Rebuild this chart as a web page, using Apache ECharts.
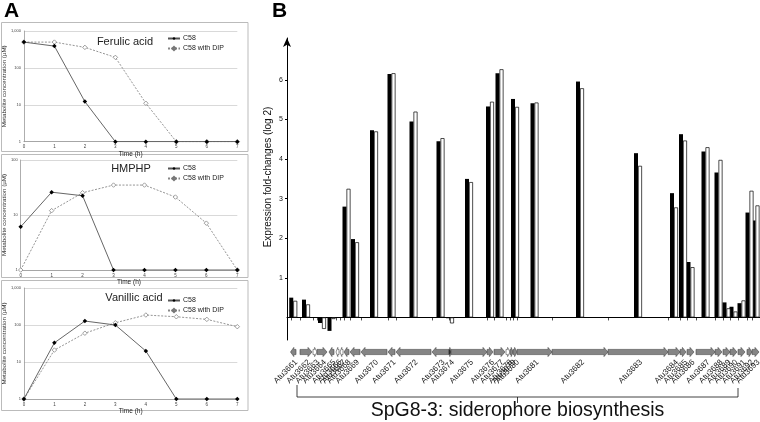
<!DOCTYPE html>
<html><head><meta charset="utf-8">
<script src="https://cdn.jsdelivr.net/npm/echarts@6/dist/echarts.min.js"></script>
<style>html,body{margin:0;padding:0;background:#fff}#c{width:760px;height:422px}</style>
</head><body><div id="c"></div>
<script>
// ---------- Panel A data (log scale, µM) ----------
const hours = [0,1,2,3,4,5,6,7];
const ferulicC58 = [500,390,12.2,1,1,1,1,1];
const ferulicDIP = [500,500,360,193,11,1,1,1];
const hmphpC58 = [6.1,26,22.4,1,1,1,1,1];
const hmphpDIP = [1,12,25.4,35,35,21.2,7.1,1];
const vanillicC58 = [1,33,128,100,19.8,1,1,1];
const vanillicDIP = [1,21,60,115,186,167,142,90];

// ---------- Panel B data ----------
const geneNames = ['Atu3661','Atu3662','Atu3663','Atu3664','Atu3665','Atu3666','Atu3667','Atu3668','Atu3669','Atu3670','Atu3671','Atu3672','Atu3673','Atu3674','Atu3675','Atu3676','Atu3677','Atu3678','Atu3679','Atu3680','Atu3681','Atu3682','Atu3683','Atu3684','Atu3685','Atu3686','Atu3687','Atu3688','Atu3689','Atu3690','Atu3691','Atu3692','Atu3693'];
const geneStart = [3.5,13,26,30,42,49,53,57,63,74,101,109,145,162,164,200,207,219,223,226,230,265,321,381,393,400,409,428,436,443,451,460,465];
const geneEnd   = [9,25,30,40,47,52,56,62,73,100,108,144,162,164,200,206,218,223,226,230,265,321,381,393,399,407,428,435,443,450,458,465,472];
const geneStrand = [-1,1,1,1,-1,-1,-1,-1,-1,-1,-1,-1,-1,1,1,1,1,1,1,1,1,1,1,1,1,1,1,1,1,1,1,1,1];
const geneWhite = [0,0,1,0,0,1,1,0,0,0,0,0,0,2,0,0,0,1,0,0,0,0,0,0,0,0,0,0,0,0,0,0,0];
const foldBlack = [0.5,0.45,null,-0.14,-0.34,null,null,2.8,1.98,4.73,6.15,4.95,4.45,-0.02,3.5,5.33,6.17,null,null,5.52,5.41,5.96,4.15,3.14,4.63,1.40,4.19,3.66,0.38,0.27,0.36,2.65,2.45];
const foldWhite = [0.42,0.33,null,-0.29,-0.04,null,null,3.25,1.9,4.7,6.17,5.2,4.53,-0.15,3.42,5.45,6.27,null,null,5.32,5.43,5.79,3.83,2.78,4.47,1.27,4.30,3.98,0.23,0.15,0.43,3.2,2.83];
const yTicksB = [1,2,3,4,5,6];
const clusterSpan = [10, 451];
const clusterLabel = 'SpG8-3: siderophore biosynthesis';

const FONT = 'Liberation Sans, Arial, sans-serif';
const chart = echarts.init(document.getElementById('c'), null, {renderer:'canvas'});

const boxesA = [
  {top:31, height:110.7, max:1000, title:'Ferulic acid', tx:125, ty:36, lg:35},
  {top:160, height:110, max:100, title:'HMPHP', tx:131, ty:163, lg:165},
  {top:288, height:111, max:1000, title:'Vanillic acid', tx:134, ty:292, lg:297}
];
const dataA = [[ferulicC58, ferulicDIP],[hmphpC58, hmphpDIP],[vanillicC58, vanillicDIP]];

const grids = [], xAxes = [], yAxes = [], series = [], legends = [];
boxesA.forEach((b,i)=>{
  grids.push({left:20.7, width:216.6, top:b.top, height:b.height});
  xAxes.push({gridIndex:i, type:'value', min:0, max:7, interval:1,
    axisLine:{lineStyle:{color:'#999', width:0.8}}, axisTick:{show:false},
    axisLabel:{fontSize:4.5, color:'#444', margin:3, fontFamily:FONT},
    splitLine:{show:false},
    name:'Time (h)', nameLocation:'middle', nameGap:8,
    nameTextStyle:{fontSize:6.5, color:'#222', fontFamily:FONT}});
  yAxes.push({gridIndex:i, type:'log', logBase:10, min:1, max:b.max,
    axisLine:{show:true, lineStyle:{color:'#999', width:0.8}}, axisTick:{show:false},
    axisLabel:{fontSize:4, color:'#444', margin:3, fontFamily:FONT},
    splitLine:{show:true, lineStyle:{color:'#cfcfcf', width:0.8}},
    name:'Metabolite concentration (µM)', nameLocation:'middle', nameGap:12,
    nameTextStyle:{fontSize:6.2, color:'#333', fontFamily:FONT}});
  series.push({name:'C58', type:'line', xAxisIndex:i, yAxisIndex:i,
    data: hours.map((h,k)=>[h, dataA[i][0][k]]),
    lineStyle:{color:'#555', width:0.9}, symbol:'diamond', symbolSize:4.5,
    itemStyle:{color:'#000'}, z:3, silent:true});
  series.push({name:'C58 with DIP', type:'line', xAxisIndex:i, yAxisIndex:i,
    data: hours.map((h,k)=>[h, dataA[i][1][k]]),
    lineStyle:{color:'#888', width:0.9, type:[2,1.5]}, symbol:'diamond', symbolSize:4.5,
    itemStyle:{color:'#fff', borderColor:'#777', borderWidth:0.7}, z:2, silent:true});
  legends.push({left:167, top:b.lg, orient:'vertical', itemWidth:12, itemHeight:4, itemGap:3,
    padding:0, data:['C58','C58 with DIP'], textStyle:{fontSize:7, color:'#222', fontFamily:FONT, padding:[0,0,0,-2]}, selectedMode:false});
});

// Panel B bar grid (index 3) and gene map grid (index 4)
grids.push({left:287, right:0, top:38, height:302});
grids.push({left:287, right:0, top:345, height:14});
xAxes.push({gridIndex:3, type:'value', min:0, max:473,
  axisLine:{show:true, onZero:true, lineStyle:{color:'#000', width:1}},
  axisTick:{show:false}, axisLabel:{show:false}, splitLine:{show:false}});
yAxes.push({gridIndex:3, type:'value', min:-0.57, max:7.06,
  axisLine:{show:true, onZero:false, lineStyle:{color:'#000', width:1}, symbol:['none','arrow'], symbolSize:[6,9]},
  axisTick:{show:true, length:2, customValues:yTicksB, lineStyle:{color:'#000'}},
  axisLabel:{customValues:yTicksB, fontSize:7, color:'#111', margin:4, fontFamily:FONT},
  splitLine:{show:false}});
xAxes.push({gridIndex:4, type:'value', min:0, max:473, show:false});
yAxes.push({gridIndex:4, type:'value', min:0, max:1, show:false});

const centers = geneStart.map((s,i)=>(s+geneEnd[i])/2);
series.push({name:'black', type:'bar', xAxisIndex:3, yAxisIndex:3, barWidth:4, barGap:'0%',
  data: centers.map((c,i)=>[c, foldBlack[i]]).filter(d=>d[1]!==null),
  itemStyle:{color:'#000'}, silent:true});
series.push({name:'white', type:'bar', xAxisIndex:3, yAxisIndex:3, barWidth:4, barGap:'0%',
  data: centers.map((c,i)=>[c, foldWhite[i]]).filter(d=>d[1]!==null),
  itemStyle:{color:'#fff', borderColor:'#000', borderWidth:0.7}, silent:true});
// small ticks at gene boundaries
series.push({type:'custom', xAxisIndex:3, yAxisIndex:3, silent:true,
  data: geneStart.map(s=>[s]),
  renderItem:(p,api)=>{const c=api.coord([api.value(0),0]);
    return {type:'line', shape:{x1:Math.round(c[0])+0.5,y1:c[1],x2:Math.round(c[0])+0.5,y2:c[1]+3}, style:{stroke:'#000', lineWidth:0.7}};}
});
// gene arrows + labels
series.push({type:'custom', xAxisIndex:4, yAxisIndex:4, silent:true, clip:false,
  encode:{x:[0,1]},
  data: geneStart.map((s,i)=>[s, geneEnd[i], geneStrand[i], geneWhite[i]]),
  renderItem:(p,api)=>{
    const i=p.dataIndex;
    const a=api.coord([api.value(0),0.5]), b=api.coord([api.value(1),0.5]);
    const x1=a[0], x2=b[0], cy=a[1];
    const bh=2.6, hh=4.6, hl=Math.min(4,(x2-x1)*0.6);
    let pts;
    if(api.value(2)>0) pts=[[x1,cy-bh],[x2-hl,cy-bh],[x2-hl,cy-hh],[x2,cy],[x2-hl,cy+hh],[x2-hl,cy+bh],[x1,cy+bh]];
    else pts=[[x2,cy-bh],[x1+hl,cy-bh],[x1+hl,cy-hh],[x1,cy],[x1+hl,cy+hh],[x1+hl,cy+bh],[x2,cy+bh]];
    const w=api.value(3);
    const fill = w===1?'#fff':(w===2?'#222':'#858585');
    const cx=(x1+x2)/2;
    return {type:'group', children:[
      {type:'polygon', shape:{points:pts}, style:{fill:fill, stroke:'#444', lineWidth:0.6}},
      {type:'text', x:cx+3, y:cy+9, rotation:Math.PI/4,
        style:{text:geneNames[i], fill:'#1a1a1a', font:'8px '+FONT, align:'right', verticalAlign:'middle'}}
    ]};
  }
});
// cluster bracket and label
series.push({type:'custom', xAxisIndex:4, yAxisIndex:4, silent:true, clip:false,
  data:[[clusterSpan[0], clusterSpan[1]]],
  renderItem:(p,api)=>{
    const a=api.coord([api.value(0),0.5]), b=api.coord([api.value(1),0.5]);
    const y=a[1]+45, mid=(a[0]+b[0])/2;
    return {type:'group', children:[
      {type:'polyline', shape:{points:[[a[0],y-12],[a[0],y],[b[0],y],[b[0],y-9]]}, style:{fill:null, stroke:'#111', lineWidth:0.8}},
      {type:'line', shape:{x1:mid,y1:y,x2:mid,y2:y+6}, style:{stroke:'#111', lineWidth:0.8}},
      {type:'text', x:mid, y:y+13.5, style:{text:clusterLabel, fill:'#111', font:'19.5px '+FONT, align:'center', verticalAlign:'middle'}}
    ]};
  }
});

const graphics = [
  {type:'rect', shape:{x:1.5, y:22.5, width:246.5, height:129}, style:{fill:null, stroke:'#bbb', lineWidth:1}, silent:true},
  {type:'rect', shape:{x:1.5, y:154.5, width:246.5, height:123}, style:{fill:null, stroke:'#bbb', lineWidth:1}, silent:true},
  {type:'rect', shape:{x:1.5, y:280.5, width:246.5, height:130}, style:{fill:null, stroke:'#bbb', lineWidth:1}, silent:true},
  {type:'text', left:4, top:1, style:{text:'A', font:'bold 21px '+FONT, fill:'#000'}},
  {type:'text', left:272, top:1, style:{text:'B', font:'bold 21px '+FONT, fill:'#000'}},
  {type:'text', x:268, y:177, rotation:Math.PI/2, style:{text:'Expression fold-changes (log 2)', font:'10px '+FONT, fill:'#111', align:'center', verticalAlign:'middle'}}
];
boxesA.forEach(b=>graphics.push({type:'text', x:b.tx, y:b.ty, style:{text:b.title, font:'11px '+FONT, fill:'#222', align:'center', verticalAlign:'top'}}));

chart.setOption({
  animation:false,
  grid:grids, xAxis:xAxes, yAxis:yAxes, series:series, legend:legends, graphic:graphics
});
</script></body></html>
